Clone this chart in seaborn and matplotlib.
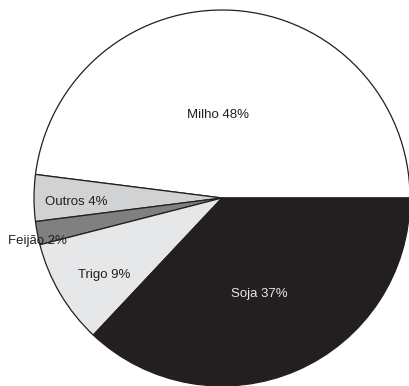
import matplotlib
matplotlib.use("Agg")
import matplotlib.pyplot as plt
import seaborn as sns
import numpy as np

categories = ["Milho", "Outros", "Feijão", "Trigo", "Soja"]
values = [48, 4, 2, 9, 37]
colors = ["#ffffff", "#d1d2d3", "#808080", "#e6e7e8", "#231f20"]
text_colors = ["#231f20", "#231f20", "#231f20", "#231f20", "#e6e6e6"]
# label placement (radius fraction, angle shift in degrees) -- layout only
label_dist = [0.425, 0.778, 1.014, 0.759, 0.561]
label_shift = [6.8, 2.7, 3.2, 3.6, -2.8]

sns.set_style("white")
plt.rcParams["font.family"] = ["Liberation Sans", "DejaVu Sans"]

fig = plt.figure(figsize=(4.09, 3.86), dpi=100)
ax = fig.add_axes([0, 0, 1, 1])
wedges, _ = ax.pie(values, colors=colors, startangle=0, counterclock=True,
                   wedgeprops=dict(edgecolor="#231f20", linewidth=0.9))
for w, cat, v, tc, d, s in zip(wedges, categories, values, text_colors, label_dist, label_shift):
    ang = np.deg2rad((w.theta1 + w.theta2) / 2 + s)
    ax.text(d * np.cos(ang), d * np.sin(ang), f"{cat} {v}%", ha="center", va="baseline",
            fontsize=9.5, color=tc)

ax.set_aspect("auto")
ax.set_xlim(-222 / 188, (409 - 222) / 188)
ax.set_ylim(-(386 - 198) / 188, 198 / 188)
ax.axis("off")
fig.savefig("out.png", dpi=100)
